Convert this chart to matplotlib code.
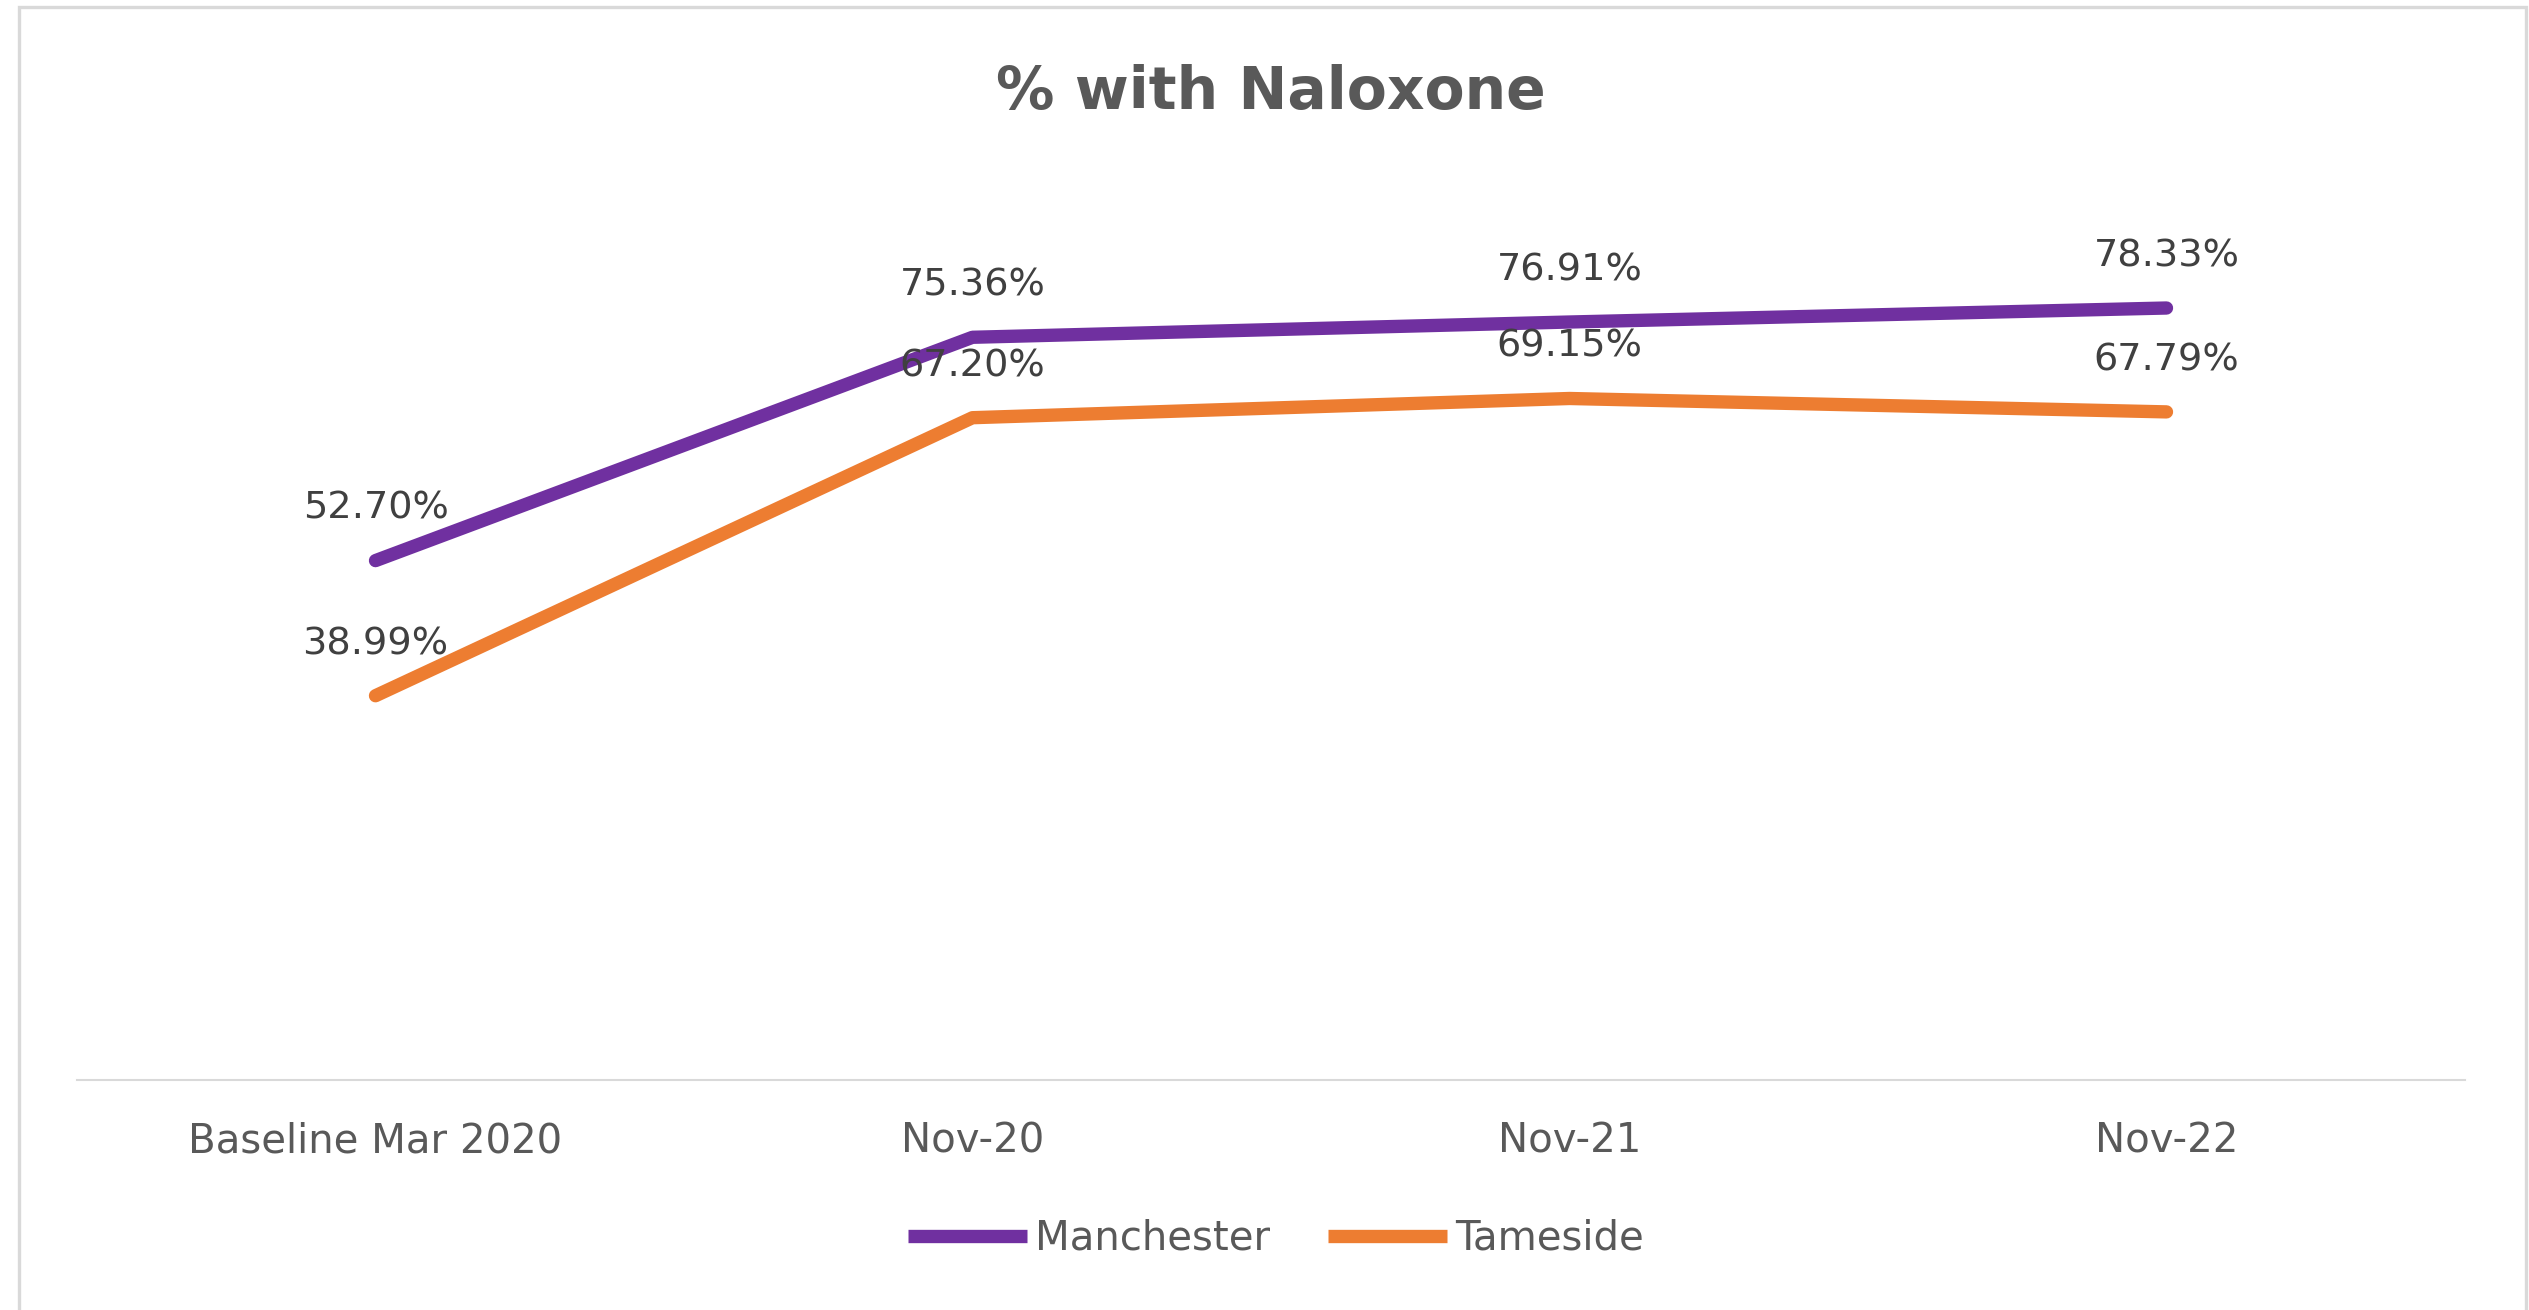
import matplotlib.pyplot as plt
from matplotlib.lines import Line2D

# Naloxone coverage by area
periods = ["Baseline Mar 2020", "Nov-20", "Nov-21", "Nov-22"]
manchester = [52.70, 75.36, 76.91, 78.33]
tameside = [38.99, 67.20, 69.15, 67.79]

purple = "#7030A0"
orange = "#ED7D31"
grey_text = "#595959"
label_text = "#404040"
rule = "#D9D9D9"

plt.rcParams["font.family"] = ["DejaVu Sans"]

W, H = 2529, 1310
fig = plt.figure(figsize=(W / 100, H / 100), dpi=100)

# plot area in pixel terms: x 77..2465, y 193..1080 (top of image = 0)
ax = fig.add_axes([77 / W, (H - 1080) / H, (2465 - 77) / W, (1080 - 193) / H])

x = list(range(len(periods)))
ax.plot(x, manchester, color=purple, lw=9.6, solid_capstyle="round",
        solid_joinstyle="round", label="Manchester", zorder=3)
ax.plot(x, tameside, color=orange, lw=9.6, solid_capstyle="round",
        solid_joinstyle="round", label="Tameside", zorder=3)

for series in (manchester, tameside):
    for i, v in enumerate(series):
        ax.annotate(f"{v:.2f}%", (i, v), xytext=(0, 30), textcoords="offset points",
                    ha="center", va="baseline", fontsize=27.5, color=label_text, zorder=4)

ax.set_xlim(-0.5, len(periods) - 0.5)
ax.set_ylim(0, 90)
ax.set_xticks(x)
ax.set_xticklabels(periods, fontsize=29, color=grey_text)
ax.tick_params(axis="x", length=0, pad=30)
ax.set_yticks([])
for side in ("left", "right", "top"):
    ax.spines[side].set_visible(False)
ax.spines["bottom"].set_color(rule)
ax.spines["bottom"].set_linewidth(1.5)

fig.text(1271 / W, (H - 109) / H, "% with Naloxone", ha="center", va="baseline",
         fontsize=42, fontweight="bold", color=grey_text)

leg = fig.legend(loc="center", bbox_to_anchor=(1276 / W, (H - 1239) / H), ncol=2,
                 frameon=False, fontsize=29, handlelength=2.95, handletextpad=0.2,
                 columnspacing=1.45, labelcolor=grey_text)
for h in leg.get_lines():
    h.set_solid_capstyle("butt")

# chart-area border (left, top, right)
bx0, bx1, by0 = 18.5 / W, 2525.5 / W, 1 - 6.5 / H
fig.add_artist(Line2D([bx0, bx0, bx1, bx1], [0, by0, by0, 0], transform=fig.transFigure,
                      color=rule, lw=2.4, solid_joinstyle="miter"))

fig.savefig("out.png", dpi=100, facecolor="white")
